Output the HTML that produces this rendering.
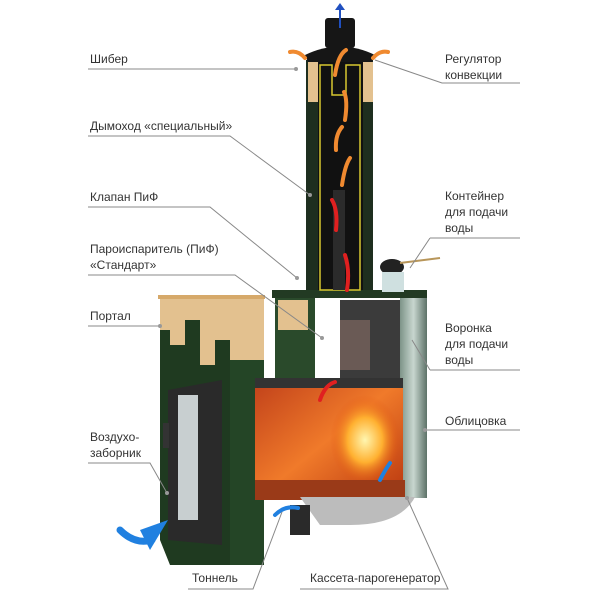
<!DOCTYPE html>
<html><head><meta charset="utf-8"><style>
body{margin:0;background:#fff;}
svg{display:block}
text{font-family:"Liberation Sans","DejaVu Sans",sans-serif;font-size:12px;fill:#333}
</style></head><body>
<svg width="600" height="600" viewBox="0 0 600 600" xmlns="http://www.w3.org/2000/svg">
<defs>
<linearGradient id="fire" x1="0" y1="0" x2="1" y2="1">
<stop offset="0" stop-color="#c0401a"/><stop offset="0.5" stop-color="#f07a2a"/><stop offset="1" stop-color="#b8360f"/>
</linearGradient>
<radialGradient id="flame" cx="0.5" cy="0.5" r="0.5">
<stop offset="0" stop-color="#fff6b0"/><stop offset="0.5" stop-color="#ffb030"/><stop offset="1" stop-color="#e05010" stop-opacity="0"/>
</radialGradient>
<linearGradient id="steam" x1="0" x2="1">
<stop offset="0" stop-color="#7d9488"/><stop offset="0.5" stop-color="#c8d6cf"/><stop offset="1" stop-color="#5d7268"/>
</linearGradient>
</defs>
<!-- left portal -->
<rect x="160" y="297" width="104" height="70" fill="#e3c18f"/>
<rect x="158" y="295" width="107" height="4" fill="#d6a96a"/>
<path d="M160 330 L170 330 L170 345 L185 345 L185 320 L200 320 L200 365 L215 365 L215 340 L230 340 L230 368 L264 368 L264 565 L170 565 L160 540 Z" fill="#1f3a20"/>
<rect x="230" y="360" width="34" height="205" fill="#244526"/>
<path d="M168 390 L222 380 L222 545 L168 540 Z" fill="#2a2a2a"/>
<rect x="178" y="395" width="20" height="125" fill="#c8cfd0"/>
<rect x="163" y="423" width="6" height="25" fill="#333"/>
<!-- right stove body -->
<rect x="272" y="290" width="155" height="8" fill="#223a23"/>
<rect x="275" y="298" width="40" height="82" fill="#2a4a2b"/>
<rect x="278" y="300" width="30" height="30" fill="#e3c18f"/>
<rect x="400" y="298" width="27" height="200" fill="url(#steam)"/>
<rect x="340" y="300" width="60" height="80" fill="#3b3b3b"/>
<rect x="340" y="320" width="30" height="50" fill="#6a5a55"/>
<!-- firebox -->
<rect x="255" y="378" width="148" height="122" fill="url(#fire)"/>
<ellipse cx="365" cy="440" rx="35" ry="45" fill="url(#flame)"/>
<rect x="255" y="378" width="148" height="10" fill="#333"/>
<path d="M255 480 L405 480 L405 500 L255 500 Z" fill="#9a3a18"/>
<path d="M300 497 L415 497 Q400 525 350 525 L320 525 Z" fill="#bcbcbc"/>
<rect x="290" y="505" width="20" height="30" fill="#2a2a2a"/>
<!-- chimney -->
<rect x="306" y="60" width="67" height="230" fill="#1e2e1f"/>
<rect x="308" y="62" width="10" height="40" fill="#e3c18f"/>
<rect x="363" y="62" width="10" height="40" fill="#e3c18f"/>
<rect x="318" y="62" width="45" height="228" fill="#111"/>
<path d="M320 65 L332 65 L332 95 L346 95 L346 65 L360 65 L360 290 L320 290 Z" fill="none" stroke="#d8c830" stroke-width="1.5"/>
<rect x="333" y="190" width="12" height="100" fill="#2b2b2b"/>
<path d="M305 55 Q340 38 375 55 L372 62 L308 62 Z" fill="#161616"/>
<rect x="325" y="18" width="30" height="30" rx="3" fill="#161616"/>
<path d="M340 28 L340 8" stroke="#2050c0" stroke-width="2"/>
<path d="M335 10 L340 3 L345 10 Z" fill="#2050c0"/>
<!-- arrows -->
<g fill="none" stroke-width="4" stroke-linecap="round">
<path d="M305 58 Q298 50 290 52" stroke="#f08a30"/>
<path d="M373 58 Q380 50 388 52" stroke="#f08a30"/>
<path d="M335 75 Q338 55 346 50" stroke="#f08a30"/>
<path d="M345 120 Q348 100 344 92" stroke="#f08a30"/>
<path d="M336 150 Q335 135 342 127" stroke="#f08a30"/>
<path d="M342 185 Q345 165 350 158" stroke="#f08a30"/>
<path d="M336 230 Q338 210 332 200" stroke="#e02020"/>
<path d="M347 290 Q350 270 345 255" stroke="#e02020"/>
<path d="M320 400 Q325 385 335 382" stroke="#e02020"/>
<path d="M152 540 Q135 545 120 530" stroke="#2080e0" stroke-width="7"/>
<path d="M275 515 Q285 505 298 508" stroke="#2080e0"/>
<path d="M380 480 Q385 470 390 463" stroke="#2080e0"/>
</g>
<path d="M168 520 L150 550 L140 530 Z" fill="#2080e0"/>
<!-- container -->
<ellipse cx="392" cy="267" rx="12" ry="8" fill="#222"/>
<line x1="400" y1="263" x2="440" y2="258" stroke="#b8965a" stroke-width="2"/>
<rect x="382" y="272" width="22" height="20" fill="#cfe0e0"/>
<!-- leader lines -->
<g stroke="#888" stroke-width="1" fill="none">
<path d="M88 69 L296 69"/>
<path d="M88 136 L230 136 L310 195"/>
<path d="M88 207 L210 207 L297 278"/>
<path d="M88 275 L235 275 L322 338"/>
<path d="M88 326 L160 326"/>
<path d="M88 463 L150 463 L167 493"/>
<path d="M188 589 L253 589 L282 512"/>
<path d="M300 589 L448 589 L407 498"/>
<path d="M375 60 L442 83 L520 83"/>
<path d="M430 238 L520 238 M430 238 L410 268"/>
<path d="M430 370 L520 370 M430 370 L412 340"/>
<path d="M425 430 L520 430"/>
</g>
<g fill="#999">
<circle cx="296" cy="69" r="2"/><circle cx="310" cy="195" r="2"/><circle cx="297" cy="278" r="2"/><circle cx="322" cy="338" r="2"/>
<circle cx="160" cy="326" r="2"/><circle cx="167" cy="493" r="2"/><circle cx="425" cy="430" r="2"/><circle cx="407" cy="498" r="2"/>
</g>
<!-- labels -->
<text x="90" y="63">Шибер</text>
<text x="90" y="130">Дымоход «специальный»</text>
<text x="90" y="201">Клапан ПиФ</text>
<text x="90" y="253">Пароиспаритель (ПиФ)</text>
<text x="90" y="269">«Стандарт»</text>
<text x="90" y="320">Портал</text>
<text x="90" y="441">Воздухо-</text>
<text x="90" y="457">заборник</text>
<text x="192" y="582">Тоннель</text>
<text x="310" y="582">Кассета-парогенератор</text>
<text x="445" y="63">Регулятор</text>
<text x="445" y="79">конвекции</text>
<text x="445" y="200">Контейнер</text>
<text x="445" y="216">для подачи</text>
<text x="445" y="232">воды</text>
<text x="445" y="332">Воронка</text>
<text x="445" y="348">для подачи</text>
<text x="445" y="364">воды</text>
<text x="445" y="425">Облицовка</text>
</svg>
</body></html>
